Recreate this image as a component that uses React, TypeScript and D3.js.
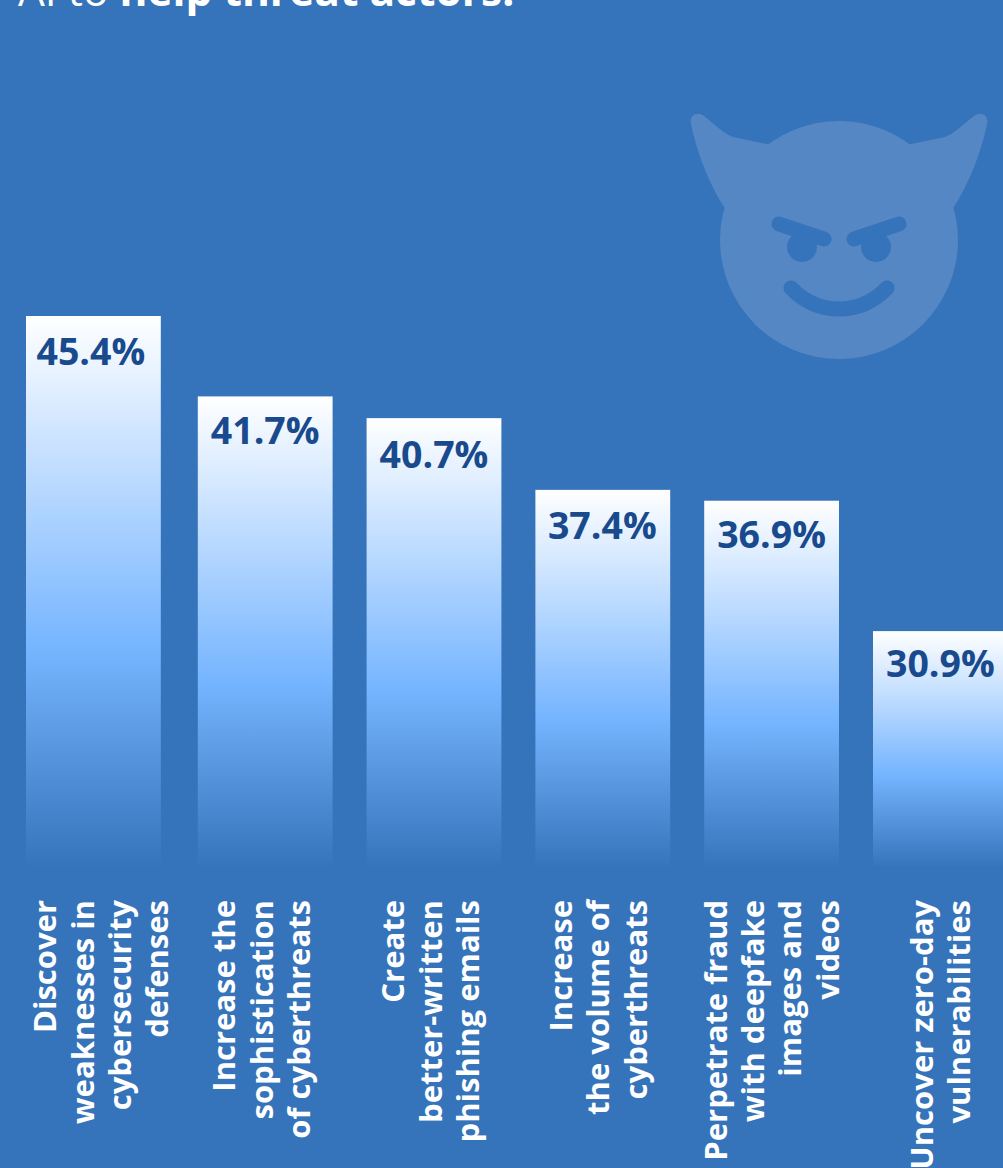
import React from 'react';
import * as d3 from 'd3';

const categories = [
  ['Discover', 'weaknesses in', 'cybersecurity', 'defenses'],
  ['Increase the', 'sophistication', 'of cyberthreats'],
  ['Create', 'better-written', 'phishing emails'],
  ['Increase', 'the volume of', 'cyberthreats'],
  ['Perpetrate fraud', 'with deepfake', 'images and', 'videos'],
  ['Uncover zero-day', 'vulnerabilities'],
];
const values = [45.4, 41.7, 40.7, 37.4, 36.9, 30.9];

const W = 1003;
const H = 1168;
const BG = '#3573bb';
const FONT = '"Open Sans", sans-serif';

// first bar sits a little left of the regular step in the source
const barNudgeX = [-3, 0, 0, 0, 0, 0];
const valueNudgeX = [-2.5, 0, 0, -0.5, 0, 0];
const valueNudgeY = [49, 47.5, 49.5, 49, 47.5, 46];
const labelNudgeX = [19, 7.5, 7.5, 6.5, 11, 11];
const LINE = 37.3;

const App: React.FC = () => {
  const x = d3.scaleBand<number>()
    .domain(d3.range(values.length))
    .range([29, 29 + 168.8 * values.length - 34])
    .paddingInner(34 / 168.8)
    .paddingOuter(0);
  const y = d3.scaleLinear().domain([20, 45.4]).range([868, 316]);

  return (
    <svg width={W} height={H} viewBox={`0 0 ${W} ${H}`}
      style={{ position: 'absolute', left: 0, top: 0, display: 'block' }} fontFamily={FONT}>
      <defs>
        <linearGradient id="barFill" x1="0" y1="0" x2="0" y2="1">
          <stop offset="0" stopColor="#ffffff" />
          <stop offset="0.6" stopColor="#76b5ff" />
          <stop offset="1" stopColor={BG} />
        </linearGradient>
      </defs>
      <rect width={W} height={H} fill={BG} />

      <text x={18} y={6} fontSize={42.5} fill="#fff">
        AI to <tspan fontWeight={700}>help threat actors.</tspan>
      </text>

      {/* devil face */}
      <g fill="#5587c4">
        <circle cx={839} cy={240} r={119} />
        <path d="M724,207 C712,188 698,158 691,124 C689,115 697,111 704,116 C717,126 723,133 733,137 L767,144 L911,144 L945,137 C955,133 961,126 974,116 C981,111 989,115 987,124 C980,158 966,188 954,207 Z" />
      </g>
      <g fill={BG} stroke={BG} strokeLinecap="round">
        <circle cx={802} cy={247} r={15} stroke="none" />
        <circle cx={876} cy={247} r={15} stroke="none" />
        <path d="M779,224 L824,239" strokeWidth={15} fill="none" />
        <path d="M899,224 L854,239" strokeWidth={15} fill="none" />
        <path d="M791,288 C818,316 860,316 887,288" strokeWidth={15} fill="none" />
      </g>

      {values.map((v, i) => {
        const left = x(i)! + barNudgeX[i];
        const cx = left + x.bandwidth() / 2;
        return (
          <g key={i}>
            <rect x={left} y={y(v)} width={x.bandwidth()} height={y(20) - y(v)} fill="url(#barFill)" />
            <text x={cx + valueNudgeX[i]} y={y(v) + valueNudgeY[i]} textAnchor="middle"
              fontSize={37.5} fontWeight={700} fill="#184a8d">{v.toFixed(1)}%</text>
            <g transform={`translate(${cx + labelNudgeX[i]},900) rotate(-90)`}>
              {categories[i].map((line, j) => (
                <text key={j} x={0} y={(j - (categories[i].length - 1) / 2) * LINE}
                  textAnchor="end" fontSize={31} fontWeight={700} fill="#fff">{line}</text>
              ))}
            </g>
          </g>
        );
      })}
    </svg>
  );
};

export default App;
